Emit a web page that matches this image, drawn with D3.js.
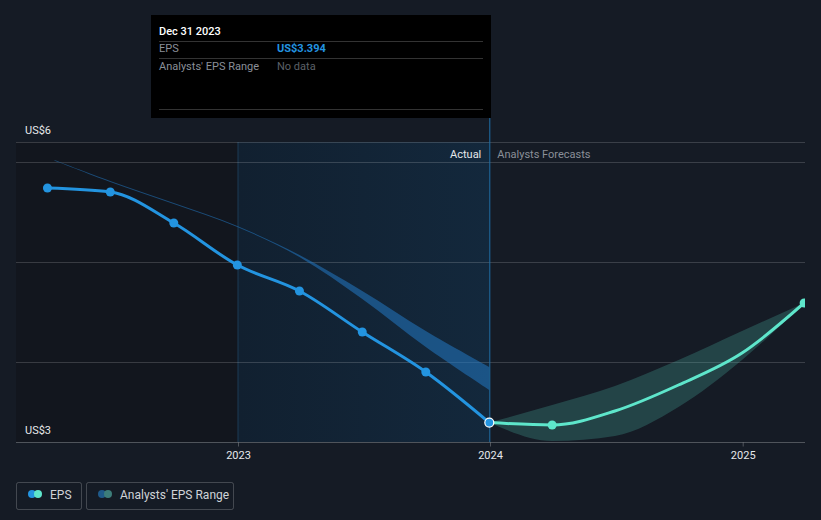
<!DOCTYPE html>
<html><head><meta charset="utf-8">
<script src="https://cdn.jsdelivr.net/npm/d3@7"></script>
<style>
html,body{margin:0;padding:0;background:#151b25;}
svg{display:block;font-family:Roboto,"Open Sans",sans-serif;}
</style></head>
<body><svg id="c" width="821" height="520"></svg>
<script>
// ---- data ----
const actualDates = ["2022-03-31","2022-06-30","2022-09-30","2022-12-31","2023-03-31","2023-06-30","2023-09-30","2023-12-31"];
const actualEPS = [5.74, 5.70, 5.39, 4.97, 4.71, 4.30, 3.90, 3.394];

const pastRangeDates = ["2022-04-10","2022-06-30","2022-09-30","2022-12-31","2023-03-31","2023-06-30","2023-09-30","2023-12-31"];
const pastRangeLow  = [6.015, 5.80, 5.58, 5.35, 5.05, 4.63, 4.15, 3.72];
const pastRangeHigh = [6.02, 5.81, 5.59, 5.36, 5.07, 4.71, 4.31, 3.95];

const forecastDates = ["2023-12-31","2024-03-31","2024-06-30","2024-09-30","2024-12-31","2025-03-31"];
const forecastEPS   = [3.394, 3.37, 3.51, 3.77, 4.09, 4.59];
const forecastLow   = [3.394, 3.21, 3.26, 3.55, 4.02, 4.59];
const forecastHigh  = [3.394, 3.57, 3.76, 4.02, 4.31, 4.59];

const yTickLabels = ["US$6", "US$3"];
const xTickYears = [2023, 2024, 2025];
const tooltipDate = "Dec 31 2023";
const tooltipEPS = "US$3.394";

// ---- setup ----
(function(){
const svg = d3.select("#c");
const W = 821, H = 520;
const L = 16, R = 805, T = 142, B = 442;
const parse = d3.timeParse("%Y-%m-%d");

const xRef = d3.scaleTime().domain([new Date(2023,0,1), new Date(2024,0,1)]).range([238, 490]);
const x = d3.scaleTime().domain([xRef.invert(L), xRef.invert(R)]).range([L, R]);
const y = d3.scaleLinear().domain([3.2, 6.2]).range([B, T]);

const defs = svg.append("defs");
const grad = defs.append("linearGradient").attr("id","hl").attr("x1","0").attr("x2","1").attr("y1","0").attr("y2","0");
grad.append("stop").attr("offset","0").attr("stop-color","#112030");
grad.append("stop").attr("offset","1").attr("stop-color","#13283c");
defs.append("clipPath").attr("id","clip").append("rect").attr("x",L).attr("y",0).attr("width",R-L).attr("height",B);

svg.append("rect").attr("width",W).attr("height",H).attr("fill","#151b25");

const xLastYear = x(new Date(2023,0,1));
const xNow = x(parse("2023-12-31"));
svg.append("rect").attr("x",L).attr("y",T).attr("width",xLastYear-L).attr("height",B-T).attr("fill","#12161e");
svg.append("rect").attr("x",xLastYear).attr("y",T).attr("width",xNow-xLastYear).attr("height",B-T).attr("fill","url(#hl)");
svg.append("line").attr("x1",xLastYear).attr("x2",xLastYear).attr("y1",T).attr("y2",B).attr("stroke","#1c3a55").attr("stroke-width",1);

// gridlines
const gridVals = [6.2, 6, 5, 4];
svg.selectAll(".grid").data(gridVals).enter().append("line")
  .attr("x1",L).attr("x2",R)
  .attr("y1",d=>Math.round(y(d))+0.5).attr("y2",d=>Math.round(y(d))+0.5)
  .attr("stroke","#ffffff").attr("stroke-opacity",0.16);

// x axis
const xAxis = d3.axisBottom(x).tickValues(xTickYears.map(v=>new Date(v,0,1))).tickFormat(d3.timeFormat("%Y")).tickSize(4).tickSizeOuter(0);
const gx = svg.append("g").attr("transform",`translate(0,${B+0.5})`).call(xAxis);
gx.select(".domain").attr("stroke","#ffffff").attr("stroke-opacity",0.25).attr("d",`M${L},0H${R}`);
gx.selectAll(".tick line").attr("stroke","#ffffff").attr("stroke-opacity",0.25);
gx.selectAll(".tick text").attr("fill","#e6e8eb").attr("font-size",11).attr("font-family","Roboto,sans-serif").attr("dy","0.9em");

// y labels
svg.append("text").attr("x",25).attr("y",134).attr("fill","#e6e8eb").attr("font-size",11).text(yTickLabels[0]);
svg.append("text").attr("x",25).attr("y",434).attr("fill","#e6e8eb").attr("font-size",11).text(yTickLabels[1]);

svg.append("text").attr("x",xNow-8).attr("y",158).attr("text-anchor","end").attr("fill","#e6e8eb").attr("font-size",11).text("Actual");
svg.append("text").attr("x",xNow+8).attr("y",158).attr("fill","#8a8f98").attr("font-size",11).text("Analysts Forecasts");

const g = svg.append("g").attr("clip-path","url(#clip)");

const pastBand = pastRangeDates.map((d,i)=>({d:parse(d),lo:pastRangeLow[i],hi:pastRangeHigh[i]}));
g.append("path").datum(pastBand)
  .attr("d", d3.area().x(d=>x(d.d)).y0(d=>y(d.lo)).y1(d=>y(d.hi)).curve(d3.curveCatmullRom.alpha(0.5)))
  .attr("fill","#2379c2").attr("fill-opacity",0.55);

const fcBand = forecastDates.map((d,i)=>({d:parse(d),lo:forecastLow[i],hi:forecastHigh[i]}));
g.append("path").datum(fcBand)
  .attr("d", d3.area().x(d=>x(d.d)).y0(d=>y(d.lo)).y1(d=>y(d.hi)).curve(d3.curveMonotoneX))
  .attr("fill","#4fbfae").attr("fill-opacity",0.25);

svg.append("line").attr("x1",xNow+0.5).attr("x2",xNow+0.5).attr("y1",118).attr("y2",B).attr("stroke","#1f6fa8").attr("stroke-width",1);

const act = actualDates.map((d,i)=>({d:parse(d),v:actualEPS[i]}));
const line = d3.line().x(d=>x(d.d)).y(d=>y(d.v)).curve(d3.curveMonotoneX);
g.append("path").datum(act).attr("d",line).attr("fill","none").attr("stroke","#2394e0").attr("stroke-width",3);

const fc = forecastDates.map((d,i)=>({d:parse(d),v:forecastEPS[i]}));
g.append("path").datum(fc).attr("d",line).attr("fill","none").attr("stroke","#5ee6cb").attr("stroke-width",3);

g.selectAll(".am").data(act.slice(0,-1)).enter().append("circle")
  .attr("cx",d=>x(d.d)).attr("cy",d=>y(d.v)).attr("r",4.5).attr("fill","#2394e0");
g.selectAll(".fm").data([fc[1], fc[fc.length-1]]).enter().append("circle")
  .attr("cx",d=>x(d.d)).attr("cy",d=>y(d.v)).attr("r",4.5).attr("fill","#5ee6cb");
svg.append("circle").attr("cx",x(act[act.length-1].d)).attr("cy",y(act[act.length-1].v)).attr("r",4.5)
  .attr("fill","#2394e0").attr("stroke","#ffffff").attr("stroke-width",1.2);

const tt = svg.append("g");
tt.append("rect").attr("x",151).attr("y",15).attr("width",340).attr("height",103).attr("fill","#000000");
tt.append("text").attr("x",159).attr("y",35).attr("fill","#ffffff").attr("font-size",11).attr("font-weight",500).text(tooltipDate);
[41.5,58.5,109.5].forEach(yy=>tt.append("line").attr("x1",159).attr("x2",483).attr("y1",yy).attr("y2",yy).attr("stroke","#ffffff").attr("stroke-opacity",0.2));
tt.append("text").attr("x",159).attr("y",52).attr("fill","#8a8f98").attr("font-size",11).text("EPS");
tt.append("text").attr("x",277).attr("y",52).attr("fill","#2394e0").attr("font-size",11).attr("font-weight",700).text(tooltipEPS);
tt.append("text").attr("x",159).attr("y",70).attr("fill","#8a8f98").attr("font-size",11).text("Analysts' EPS Range");
tt.append("text").attr("x",277).attr("y",70).attr("fill","#5c6068").attr("font-size",11).text("No data");

const lg = svg.append("g");
lg.append("rect").attr("x",16.5).attr("y",482.5).attr("width",65).attr("height",27).attr("rx",2).attr("fill","none").attr("stroke","#ffffff").attr("stroke-opacity",0.2);
lg.append("circle").attr("cx",32).attr("cy",494).attr("r",4).attr("fill","#2394e0");
lg.append("circle").attr("cx",38).attr("cy",494).attr("r",4).attr("fill","#5ee6cb");
lg.append("text").attr("x",50).attr("y",498.5).attr("fill","#d0d3d8").attr("font-size",12).text("EPS");
lg.append("rect").attr("x",86.5).attr("y",482.5).attr("width",147).attr("height",27).attr("rx",2).attr("fill","none").attr("stroke","#ffffff").attr("stroke-opacity",0.2);
lg.append("circle").attr("cx",102).attr("cy",494).attr("r",4).attr("fill","#1f5a8a");
lg.append("circle").attr("cx",108).attr("cy",494).attr("r",4).attr("fill","#3d7d7a");
lg.append("text").attr("x",120).attr("y",498.5).attr("fill","#d0d3d8").attr("font-size",12).text("Analysts' EPS Range");
})();
</script></body></html>
